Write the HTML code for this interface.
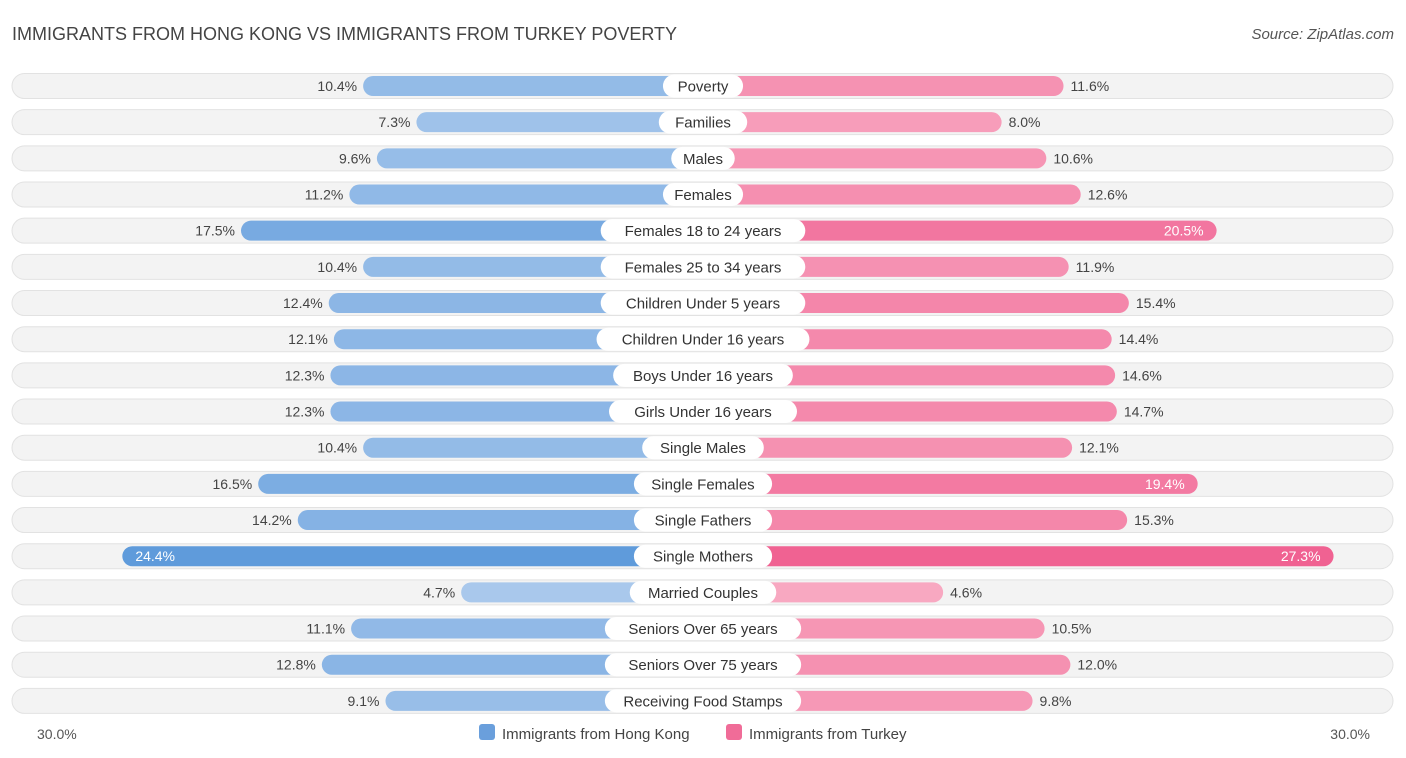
<!DOCTYPE html>
<html><head><meta charset="utf-8"><style>
body{margin:0;background:#fff;font-family:"Liberation Sans",sans-serif;}
#c{position:relative;width:1406px;height:758px;overflow:hidden;}
</style></head><body>
<div id="c">
<svg id="s" width="1406" height="758" xmlns="http://www.w3.org/2000/svg">
<text x="12" y="40" font-size="18" fill="#444">IMMIGRANTS FROM HONG KONG VS IMMIGRANTS FROM TURKEY POVERTY</text>
<text x="1394" y="39" font-size="15" fill="#555" font-style="italic" text-anchor="end">Source: ZipAtlas.com</text>
<g id="rows"></g>
<text x="37" y="739" font-size="14" fill="#555">30.0%</text>
<text x="1370" y="739" font-size="14" fill="#555" text-anchor="end">30.0%</text>
<rect x="479" y="724" width="16" height="16" rx="3" fill="#6a9fdc"/>
<text x="502" y="739" font-size="15" fill="#444">Immigrants from Hong Kong</text>
<rect x="726" y="724" width="16" height="16" rx="3" fill="#f06c98"/>
<text x="749" y="739" font-size="15" fill="#444">Immigrants from Turkey</text>
</svg></div>
<script>
const categories=["Poverty","Families","Males","Females","Females 18 to 24 years","Females 25 to 34 years","Children Under 5 years","Children Under 16 years","Boys Under 16 years","Girls Under 16 years","Single Males","Single Females","Single Fathers","Single Mothers","Married Couples","Seniors Over 65 years","Seniors Over 75 years","Receiving Food Stamps"];
const hongKong=[10.4,7.3,9.6,11.2,17.5,10.4,12.4,12.1,12.3,12.3,10.4,16.5,14.2,24.4,4.7,11.1,12.8,9.1];
const turkey=[11.6,8.0,10.6,12.6,20.5,11.9,15.4,14.4,14.6,14.7,12.1,19.4,15.3,27.3,4.6,10.5,12.0,9.8];
const NS="http://www.w3.org/2000/svg";
const cx=703,off=161,k=17.2,y0=86,dy=36.17;
function len(v){return off+k*v;}
function mix(a,b,t){return "rgb("+a.map((x,i)=>Math.round(x+(b[i]-x)*t)).join(",")+")";}
function mk(tag,at,p){const e=document.createElementNS(NS,tag);for(const a in at)e.setAttribute(a,at[a]);p.appendChild(e);return e;}
const g=document.getElementById("rows");
categories.forEach((c,i)=>{
 const y=y0+i*dy;
 const r=mk("g",{},g);
 
 
 const bg=mk("rect",{x:12,y:y-12.5,width:1381,height:25,rx:12.5,fill:"#f3f3f3",stroke:"#e2e2e2","stroke-width":1},r);
 
 
 const h=hongKong[i],t=turkey[i];
 const th=Math.min(1,Math.max(0,(h-4)/20)),tt=Math.min(1,Math.max(0,(t-4)/23));
 const lb=mk("rect",{x:cx-len(h),y:y-10,width:len(h),height:20,rx:10,fill:mix([172,202,237],[95,155,219],th)},r);
 
 
 const rb=mk("rect",{x:cx,y:y-10,width:len(t),height:20,rx:10,fill:mix([248,170,194],[240,98,146],tt)},r);
 
 
 const inH=h>17.9, inT=t>17.9;
 const lt=mk("text",{x:inH?cx-len(h)+13:cx-len(h)-6,y:y+5,"font-size":14,fill:inH?"#fff":"#444","text-anchor":inH?"start":"end"},r);
 lt.textContent=h.toFixed(1)+"%";
 
 
 const rt=mk("text",{x:inT?cx+len(t)-13:cx+len(t)+7,y:y+5,"font-size":14,fill:inT?"#fff":"#444","text-anchor":inT?"end":"start"},r);
 rt.textContent=t.toFixed(1)+"%";
 
 
 const w=c.length*8.3+22;
 const pill=mk("rect",{x:cx-w/2,y:y-11.5,width:w,height:23,rx:11.5,fill:"#fff"},r);
 
 
 const lab=mk("text",{x:cx,y:y+5.5,"font-size":15,fill:"#333","text-anchor":"middle"},r);
 lab.textContent=c;
 
 
});
</script>
</body></html>
